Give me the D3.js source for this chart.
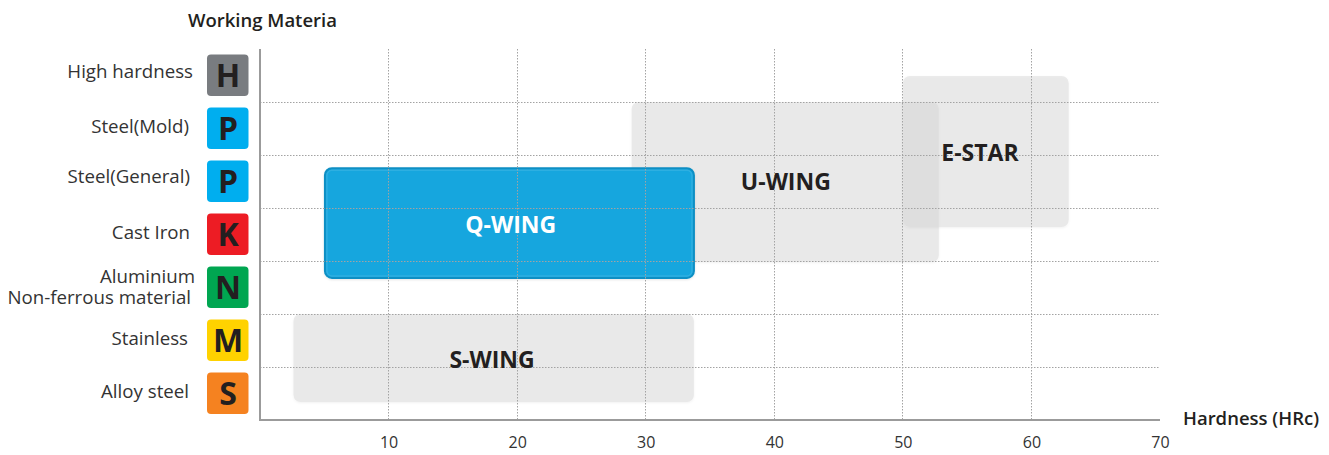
<!DOCTYPE html>
<html>
<head>
<meta charset="utf-8">
<script src="https://cdn.jsdelivr.net/npm/d3@7"></script>
<style>
  html, body { margin: 0; padding: 0; background: #fff; }
  svg { display: block; font-family: "Open Sans", sans-serif; }
</style>
</head>
<body>
<div id="chart"></div>
<script>
const materials = ['High hardness', 'Steel(Mold)', 'Steel(General)', 'Cast Iron', 'Aluminium\nNon-ferrous material', 'Stainless', 'Alloy steel']
const grades = ['H', 'P', 'P', 'K', 'N', 'M', 'S']
const gradeColors = ['#797c80', '#00aeef', '#00aeef', '#ed1c24', '#00a651', '#ffd200', '#f58220']
const hardnessTicks = [10, 20, 30, 40, 50, 60, 70]

// bars drawn back to front; rows are measured in material rows from the top
const products = ['S-WING', 'U-WING', 'E-STAR', 'Q-WING']
const hardnessFrom = [2.6, 28.9, 50, 5.05]
const hardnessTo = [33.75, 52.8, 62.9, 33.75]
const rowFrom = [5, 1, 0.51, 2.25]
const rowTo = [6.66, 4.02, 3.36, 4.32]
// where each name sits, same units as the bars
const nameHardness = [18.05, 40.9, 56, 19.5]
const nameRow = [5.87, 2.51, 1.96, 3.32]

const width = 1329
const height = 455
const plot = { left: 260, right: 1160, top: 49, bottom: 420 }
const highlight = 'Q-WING'

// label placement, the original is hand set so the right edges wander a bit
const labelRight = [[193], [189], [190], [190], [195, 191], [188], [189]]
const labelBaseline = [[2.5], [4], [1.5], [4.5], [-5, 16.5], [4.5], [4.5]]

const x = d3.scaleLinear().domain([0, 70]).range([plot.left, plot.right])
const row = d3.scaleLinear().domain([0, materials.length]).range([plot.top, plot.bottom])
const band = d3.scaleBand().domain(d3.range(materials.length)).range([plot.top, plot.bottom])

const svg = d3.select('#chart').append('svg').attr('width', width).attr('height', height)

const defs = svg.append('defs')
const shadow = defs.append('filter').attr('id', 'soft').attr('x', '-5%').attr('y', '-5%').attr('width', '110%').attr('height', '110%')
shadow.append('feDropShadow').attr('dx', 0).attr('dy', 1).attr('stdDeviation', 1).attr('flood-color', '#000').attr('flood-opacity', 0.1)

// Bars
const bars = svg.append('g')
products.forEach((name, i) => {
  const isMain = name === highlight
  const g = bars.append('g').attr('class', isMain ? 'main' : 'back')
  g.append('rect')
    .attr('x', x(hardnessFrom[i])).attr('y', row(rowFrom[i]))
    .attr('width', x(hardnessTo[i]) - x(hardnessFrom[i]))
    .attr('height', row(rowTo[i]) - row(rowFrom[i]))
    .attr('rx', 7)
    .attr('fill', isMain ? '#17a6de' : '#d9d9d9')
    .attr('fill-opacity', isMain ? 1 : 0.5)
    .attr('stroke', isMain ? '#0b8fc4' : 'none')
    .attr('stroke-width', isMain ? 2 : 0)
    .attr('filter', 'url(#soft)')
  if (isMain) {
    g.append('rect')
      .attr('x', x(hardnessFrom[i]) + 2).attr('y', row(rowFrom[i]) + 2)
      .attr('width', x(hardnessTo[i]) - x(hardnessFrom[i]) - 4)
      .attr('height', row(rowTo[i]) - row(rowFrom[i]) - 4)
      .attr('rx', 5).attr('fill', 'none')
      .attr('stroke', '#fff').attr('stroke-opacity', 0.1).attr('stroke-width', 1.5)
  }
})

// Grid sits over the grey bars, the blue bar covers it
const grid = svg.append('g').attr('stroke', '#a3a3a3').attr('stroke-width', 1).attr('stroke-dasharray', '1.5 1.5')
hardnessTicks.slice(0, -1).forEach(t => {
  grid.append('line').attr('x1', Math.floor(x(t)) + 0.5).attr('x2', Math.floor(x(t)) + 0.5).attr('y1', plot.top).attr('y2', plot.bottom)
})
d3.range(1, materials.length).forEach(r => {
  grid.append('line').attr('x1', plot.left).attr('x2', plot.right).attr('y1', Math.round(row(r)) + 0.5).attr('y2', Math.round(row(r)) + 0.5)
})
svg.select('g.main').raise()

// Axes
const axes = svg.append('g').attr('stroke', '#9b9b9b').attr('stroke-width', 2).attr('fill', 'none')
axes.append('path').attr('d', `M${plot.left},${plot.top}V${plot.bottom}H${plot.right}`)

const xAxis = svg.append('g').attr('transform', `translate(0,${plot.bottom})`)
  .call(d3.axisBottom(x).tickValues(hardnessTicks).tickSize(0).tickPadding(17))
xAxis.select('.domain').remove()
xAxis.selectAll('text').attr('fill', '#333').style('font-size', '16px').style('font-family', '"Open Sans", sans-serif')

// Grade badges
const badges = svg.append('g')
grades.forEach((g, i) => {
  const cy = band(i) + band.bandwidth() / 2
  badges.append('rect').attr('x', 207).attr('y', cy - 21).attr('width', 41.5).attr('height', 41.5).attr('rx', 4).attr('fill', gradeColors[i])
  badges.append('text').attr('x', 228).attr('y', cy + 11.5).attr('text-anchor', 'middle')
    .attr('fill', '#231f20').style('font-size', '32px').style('font-weight', 700).text(g)
})

// Material labels, two line ones stay one text element
const labels = svg.append('g').attr('fill', '#333').style('font-size', '18.7px')
materials.forEach((m, i) => {
  const cy = band(i) + band.bandwidth() / 2
  const label = labels.append('text').attr('text-anchor', 'end')
  m.split('\n').forEach((line, j) => {
    label.append('tspan')
      .attr('x', labelRight[i][j])
      .attr('y', cy + labelBaseline[i][j])
      .text(line)
  })
})

// Bar names
const names = svg.append('g').attr('text-anchor', 'middle').style('font-size', '23px').style('font-weight', 700)
products.forEach((name, i) => {
  names.append('text').attr('x', x(nameHardness[i])).attr('y', row(nameRow[i]) + 8)
    .attr('fill', name === highlight ? '#fff' : '#231f20').text(name)
})

svg.append('text').attr('x', 188).attr('y', 27).attr('fill', '#231f20')
  .style('font-size', '18.5px').style('font-weight', 600).text('Working Materia')
svg.append('text').attr('x', 1183).attr('y', 425).attr('fill', '#231f20')
  .style('font-size', '18.5px').style('font-weight', 600).text('Hardness (HRc)')
</script>
</body>
</html>
